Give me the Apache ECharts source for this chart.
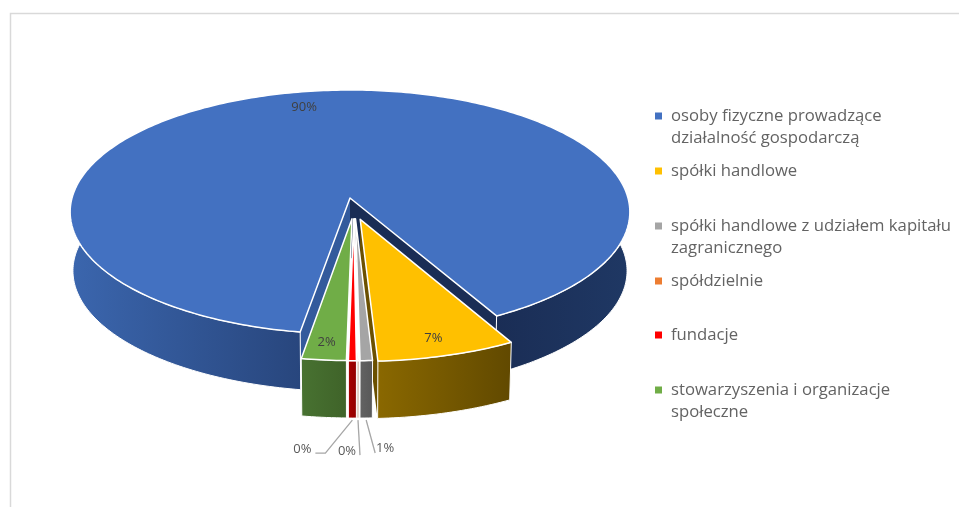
<!DOCTYPE html>
<html><head><meta charset="utf-8">
<style>html,body{margin:0;padding:0;background:#fff}#c{width:959px;height:507px}</style>
<script src="https://cdn.jsdelivr.net/npm/echarts@6/dist/echarts.min.js"></script>
</head><body><div id="c"></div>
<script>
// ---- data ----
const categories = [
  'osoby fizyczne prowadzące\ndziałalność gospodarczą',
  'spółki handlowe',
  'spółki handlowe z udziałem kapitału\nzagranicznego',
  'spółdzielnie',
  'fundacje',
  'stowarzyszenia i organizacje\nspołeczne'
];
const shares = [89.6, 7.05, 0.62, 0.08, 0.4, 2.25];

// ---- styles and layout ----
const topColors = ['#4371c1', '#ffc000', '#a5a5a5', '#ed7d31', '#ff0000', '#70ad47'];
const wallColors = [
  ['#3b66ae', '#28467d'],
  ['#8a6800', '#614900'],
  ['#636363', '#585858'],
  ['#8e4b1d', '#8e4b1d'],
  ['#a80000', '#900000'],
  ['#487231', '#3f6329']
];
const rightWall = ['#1a2d55', '#1f3864'];
const cutLeft = '#335a9c', cutRight = '#1a2d55', cutYellow = '#6b5000';
const explode = [0, 0.18, 0.17, 0.17, 0.17, 0.17];
const explodeBias = [0, -0.0125, 0.014, 0.014, 0.014, 0.022];
const P = {cx: 350, cy: 198, a: 278, b: 120.4, k: 0.1148, drop: 59, shrink: 0.99};
const startTheta = 28.3;            // where the first slice ends, degrees from the front
const innerLabelR = 0.875;
const labelNudge = [[-9, 4], [-2, 2], null, null, null, [-1, 2]];
const leaders = [null, null,
  {line: [[9, 33]], text: [19, 28]},
  {line: [[2, 35]], text: [-11, 31]},
  {line: [[-27, 33], [-37, 33]], text: [-50, 29]},
  null];
const legendY = [116, 171, 226, 281, 335, 390];

const total = shares.reduce((a, b) => a + b, 0);
function project(u, v, low) {
  const s = low ? P.shrink : 1, w = 1 - P.k * v;
  return [P.cx + P.a * s * u / w, P.cy + (low ? P.drop : 0) + P.b * s * v / w];
}
const rad = d => d * Math.PI / 180;
// slices run clockwise on screen, i.e. towards a smaller theta
const gapDeg = (total - shares[0]) / total * 360;
const spans = [{lo: startTheta - 360, hi: startTheta - gapDeg}];
let cursor = startTheta;
for (let i = 1; i < shares.length; i++) {
  const d = shares[i] / total * 360;
  spans[i] = {hi: cursor, lo: cursor - d};
  cursor -= d;
}

function offset(i) {
  const m = rad((spans[i].hi + spans[i].lo) / 2), e = explode[i];
  return [e * Math.sin(m) + explodeBias[i], e * Math.cos(m)];
}
function rim(i, t, low, r) {
  const o = offset(i), q = rad(t), R = r === undefined ? 1 : r;
  return project(o[0] + R * Math.sin(q), o[1] + R * Math.cos(q), low);
}
function arc(i, from, to, low) {
  const n = Math.max(2, Math.ceil(Math.abs(to - from))), pts = [];
  for (let j = 0; j <= n; j++) pts.push(rim(i, from + (to - from) * j / n, low));
  return pts;
}
const grad = c => ({type: 'linear', x: 0, y: 0, x2: 1, y2: 0,
  colorStops: [{offset: 0, color: c[0]}, {offset: 1, color: c[1]}]});
const poly = (pts, fill, lw) => ({type: 'polygon', shape: {points: pts},
  style: {fill: fill, stroke: lw ? '#fff' : null, lineWidth: lw || 0, lineJoin: 'round'}});
const wall = (i, a, b, fill, lw) =>
  poly(arc(i, a, b, false).concat(arc(i, b, a, true)), fill, lw);

function renderSlice(i) {
  const s = spans[i], ch = [], apexT = project(...offset(i), false), apexB = project(...offset(i), true);
  const label = Math.round(shares[i] / total * 100) + '%';
  if (i === 0) {
    // hollow wedge faces, then the outer wall on each side of the gap
    ch.push(poly([apexT, rim(0, s.hi, false), rim(0, s.hi, true), apexB], cutLeft, 0));
    ch.push(poly([apexT, rim(0, s.lo + 360, false), rim(0, s.lo + 360, true), apexB], cutRight, 0));
    ch.push(wall(0, s.hi, -100, grad(wallColors[0]), 1));
    ch.push(wall(0, s.lo + 360, 100, grad(rightWall), 1));
  } else {
    if (s.lo > 2) ch.push(poly([apexT, rim(i, s.lo, false), rim(i, s.lo, true), apexB], cutYellow, 0));
    ch.push(wall(i, s.lo, s.hi, grad(wallColors[i]), 1));
  }
  ch.push(poly([apexT].concat(arc(i, s.lo, s.hi, false)), topColors[i], 1.5));
  const mid = (s.lo + s.hi) / 2;
  if (leaders[i]) {
    const st = rim(i, mid, true), a = [st[0], st[1] + 2];
    const line = [a].concat(leaders[i].line.map(o => [a[0] + o[0], a[1] + o[1]]));
    ch.push({type: 'polyline', shape: {points: line}, style: {fill: 'none', stroke: '#a6a6a6', lineWidth: 1.3}});
    ch.push({type: 'text', style: {text: label, x: a[0] + leaders[i].text[0], y: a[1] + leaders[i].text[1],
      align: 'center', verticalAlign: 'middle', fill: '#595959', font: '13px "Open Sans"'}});
  } else {
    const c = rim(i, mid, false, innerLabelR), n = labelNudge[i];
    ch.push({type: 'text', style: {text: label, x: c[0] + n[0], y: c[1] + n[1],
      align: 'center', verticalAlign: 'middle', fill: '#404040', font: '13px "Open Sans"'}});
  }
  return {type: 'group', children: ch};
}

const chart = echarts.init(document.getElementById('c'), null, {renderer: 'canvas'});
const font = {fontFamily: 'Open Sans', fontSize: 16.7, color: '#636363', lineHeight: 22};
chart.setOption({
  animation: false,
  backgroundColor: '#fff',
  graphic: [{type: 'polyline', silent: true, shape: {points: [[10.5, 507], [10.5, 13.5], [959, 13.5]]},
    style: {fill: 'none', stroke: '#d9d9d9', lineWidth: 1.5}}],
  legend: categories.map((name, i) => {
    const two = name.indexOf('\n') >= 0;
    return {
      data: [name], left: 655, top: legendY[i] - (two ? 33 : 11), orient: 'vertical', padding: 0,
      itemWidth: 7, itemHeight: 7, icon: 'rect', selectedMode: false,
      formatter: n => (two ? ' \n' : '') + n,
      textStyle: Object.assign({}, font, {padding: [0, 0, 0, 4]})
    };
  }),
  series: categories.map((name, i) => ({
    type: 'custom', name: name, coordinateSystem: 'none', silent: true,
    itemStyle: {color: topColors[i]},
    data: [{name: name, value: shares[i]}],
    renderItem: () => renderSlice(i)
  }))
});
</script></body></html>
